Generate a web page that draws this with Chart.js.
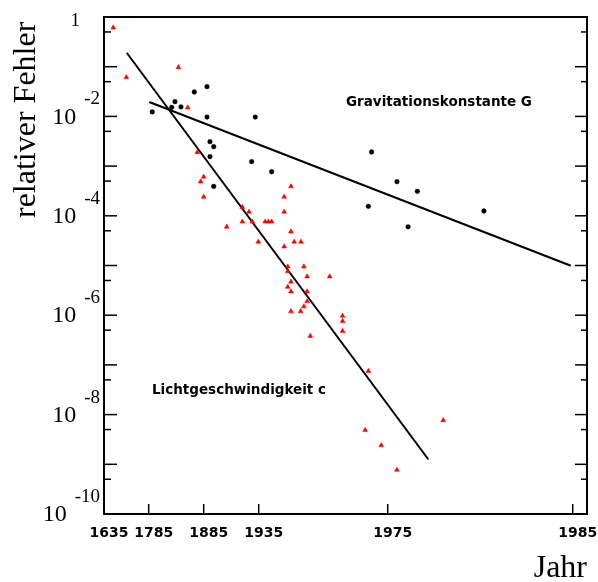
<!DOCTYPE html>
<html><head><meta charset="utf-8">
<script src="https://cdn.jsdelivr.net/npm/chart.js@4"></script>
<style>html,body{margin:0;padding:0;background:#fff;} canvas{display:block;}</style>
</head><body>
<canvas id="c" width="598" height="582"></canvas>
<script>
// ---- data ----
const tickYears = [1635, 1785, 1885, 1935, 1975, 1985];
const yLabelExponents = [-2, -4, -6, -8, -10];

const lightYears = [1666, 1710, 1839, 1856, 1873.4, 1885, 1879.5, 1885, 1945, 1942.9,
  1920.1, 1926.2, 1942.9, 1920.1, 1929.2, 1937, 1938, 1939, 1905.9, 1945,
  1934.6, 1946, 1948.1, 1942.9, 1944, 1949, 1944, 1950, 1957, 1945,
  1944, 1945, 1950, 1950, 1949, 1945, 1948, 1961, 1961, 1961,
  1951, 1969, 1968, 1973, 1975.5, 1978];
const lightErr = [0.61, 6.1e-2, 9.7e-2, 1.5e-2, 1.9e-3, 6.1e-4, 4.9e-4, 2.4e-4, 3.9e-4, 2.4e-4,
  1.5e-4, 1.2e-4, 1.2e-4, 7.6e-5, 7.6e-5, 7.6e-5, 7.6e-5, 7.6e-5, 6.0e-5, 4.8e-5,
  3.0e-5, 3.0e-5, 3.0e-5, 2.4e-5, 9.5e-6, 9.5e-6, 7.6e-6, 6.0e-6, 6.0e-6, 4.7e-6,
  3.7e-6, 3.0e-6, 3.0e-6, 1.9e-6, 1.5e-6, 1.2e-6, 1.2e-6, 9.7e-7, 7.6e-7, 4.8e-7,
  3.8e-7, 7.5e-8, 4.9e-9, 2.4e-9, 7.7e-10, 7.7e-9];

const gravYears = [1791.5, 1826.8, 1832.8, 1843.7, 1867.9, 1888, 1888, 1931.9, 1890.7, 1894.1,
  1890.7, 1928.6, 1939, 1894.1, 1970, 1975.5, 1976.6, 1969, 1976.1, 1980.2];
const gravErr = [1.23e-2, 1.52e-2, 1.98e-2, 1.55e-2, 3.1e-2, 3.96e-2, 9.7e-3, 9.7e-3, 3.1e-3, 2.46e-3,
  1.55e-3, 1.23e-3, 7.7e-4, 3.9e-4, 1.92e-3, 4.85e-4, 3.11e-4, 1.55e-4, 6.0e-5, 1.25e-4];

const lightFitYears = [1711.2, 1977.2];
const lightFitErr = [0.191, 1.25e-9];
const gravFitYears = [1786.1, 1984.9];
const gravFitErr = [1.95e-2, 9.86e-6];

// ---- axis warp (non-linear year axis of the original) ----
const WARP = {
  years: [1635, 1785, 1885, 1935, 1975, 1985, 1985.77],
  pos:   [0, 0.0925, 0.2064, 0.3203, 0.5874, 0.9704, 1]
};
function warp(yr) {
  const Y = WARP.years, P = WARP.pos;
  for (let i = 0; i < Y.length - 1; i++) {
    if (yr <= Y[i + 1] || i === Y.length - 2) {
      return P[i] + (yr - Y[i]) / (Y[i + 1] - Y[i]) * (P[i + 1] - P[i]);
    }
  }
}
const pts = (xs, ys) => xs.map((x, i) => ({ x: warp(x), y: ys[i] }));

// ---- decorations: frame, ticks, labels ----
const deco = {
  id: 'deco',
  afterDraw(chart) {
    const { ctx, chartArea: a, scales: { x, y } } = chart;
    const line = (x1, y1, x2, y2) => { ctx.beginPath(); ctx.moveTo(x1, y1); ctx.lineTo(x2, y2); ctx.stroke(); };
    ctx.save();
    ctx.strokeStyle = '#000';
    ctx.fillStyle = '#000';
    ctx.lineWidth = 2;
    ctx.strokeRect(a.left, a.top, a.right - a.left, a.bottom - a.top);
    ctx.lineWidth = 1.5;
    for (let n = 0; n <= 10; n++) {
      const py = y.getPixelForValue(Math.pow(10, -n));
      line(a.left, py, a.left + 13, py);
      line(a.right, py, a.right - 12, py);
    }
    for (let n = 1; n <= 10; n++) {
      const py = y.getPixelForValue(5 * Math.pow(10, -n));
      line(a.left, py, a.left + 7, py);
      line(a.right, py, a.right - 6, py);
    }
    ctx.font = 'bold 14px "DejaVu Sans"';
    ctx.textAlign = 'center';
    ctx.textBaseline = 'middle';
    tickYears.forEach(yr => {
      const px = x.getPixelForValue(warp(yr));
      line(px, a.bottom, px, a.bottom - 10);
      ctx.fillText(String(yr), px + 5, a.bottom + 19);
    });
    // y labels
    ctx.textAlign = 'right';
    ctx.font = '19px "Liberation Serif"';
    ctx.fillText('1', a.left - 24, y.getPixelForValue(1) + 4);
    yLabelExponents.forEach(e => {
      const py = y.getPixelForValue(Math.pow(10, e));
      ctx.font = '19px "Liberation Serif"';
      const sup = String(e).replace('-', '-');
      const w = ctx.measureText(sup).width;
      ctx.fillText(sup, a.left - 4, py - 17);
      ctx.font = '24px "Liberation Serif"';
      ctx.fillText('10', a.left - 4 - w - 8, py + 1);
    });
    // axis titles
    ctx.font = '32px "Liberation Serif"';
    ctx.textBaseline = 'alphabetic';
    ctx.textAlign = 'right';
    ctx.fillText('Jahr', a.right, 577);
    ctx.save();
    ctx.translate(35, 218);
    ctx.rotate(-Math.PI / 2);
    ctx.textAlign = 'left';
    ctx.fillText('relativer Fehler', 0, 0);
    ctx.restore();
    // annotations
    ctx.font = 'bold 13.5px "DejaVu Sans"';
    ctx.textAlign = 'left';
    ctx.textBaseline = 'middle';
    ctx.fillText('Gravitationskonstante G', 346, 102);
    ctx.fillText('Lichtgeschwindigkeit c', 152, 390);
    ctx.restore();
  }
};

new Chart(document.getElementById('c'), {
  type: 'scatter',
  data: {
    datasets: [
      { label: 'Lichtgeschwindigkeit c', data: pts(lightYears, lightErr),
        pointStyle: 'triangle', pointRadius: 2.8, backgroundColor: '#ff0000', borderColor: '#ff0000', borderWidth: 0.5 },
      { label: 'Gravitationskonstante G', data: pts(gravYears, gravErr),
        pointStyle: 'circle', pointRadius: 2.4, backgroundColor: '#000', borderColor: '#000', borderWidth: 0.3 },
      { label: 'Fit c', data: pts(lightFitYears, lightFitErr), showLine: true, pointRadius: 0,
        borderColor: '#000', borderWidth: 2, fill: false },
      { label: 'Fit G', data: pts(gravFitYears, gravFitErr), showLine: true, pointRadius: 0,
        borderColor: '#000', borderWidth: 2, fill: false }
    ]
  },
  options: {
    responsive: false,
    animation: false,
    events: [],
    layout: { padding: { left: 104, top: 17, right: 11, bottom: 68 } },
    plugins: { legend: { display: false }, tooltip: { enabled: false } },
    scales: {
      x: { type: 'linear', min: 0, max: 1, display: false },
      y: { type: 'logarithmic', min: 1e-10, max: 1, display: false }
    }
  },
  plugins: [deco]
});
</script>
</body></html>
